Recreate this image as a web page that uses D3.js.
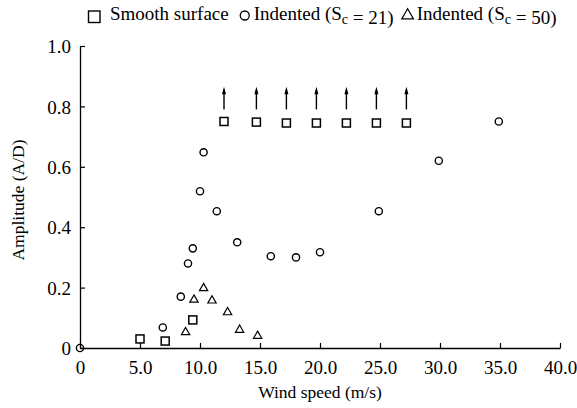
<!DOCTYPE html>
<html><head><meta charset="utf-8">
<script src="https://cdn.jsdelivr.net/npm/d3@7"></script>
<style>
html,body{margin:0;padding:0;background:#fff;}
</style></head>
<body>
<svg id="c" width="577" height="408"></svg>
<script>
// Data (wind speed m/s, amplitude A/D)
const smoothX = [5.0, 7.1, 9.4, 12.0, 14.7, 17.2, 19.7, 22.2, 24.7, 27.2];
const smoothY = [0.03, 0.023, 0.093, 0.75, 0.748, 0.745, 0.745, 0.745, 0.745, 0.745];
const sc21X = [0.0, 6.9, 8.4, 9.0, 9.4, 10.0, 10.3, 11.4, 13.1, 15.9, 18.0, 20.0, 24.9, 29.9, 34.9];
const sc21Y = [0.0, 0.068, 0.17, 0.28, 0.33, 0.519, 0.648, 0.453, 0.35, 0.304, 0.30, 0.317, 0.453, 0.62, 0.75];
const sc50X = [8.8, 9.5, 10.3, 11.0, 12.3, 13.3, 14.8];
const sc50Y = [0.052, 0.16, 0.198, 0.157, 0.118, 0.06, 0.04];
const arrowX = [12.0, 14.7, 17.2, 19.7, 22.2, 24.7, 27.2];
const xTicks = [0, 5, 10, 15, 20, 25, 30, 35, 40];
const xTickLabels = ["0", "5.0", "10.0", "15.0", "20.0", "25.0", "30.0", "35.0", "40.0"];
const yTicks = [0, 0.2, 0.4, 0.6, 0.8, 1.0];
const yTickLabels = ["0", "0.2", "0.4", "0.6", "0.8", "1.0"];

const FONT = '"Liberation Serif", "Times New Roman", Times, serif';
const svg = d3.select("#c").attr("font-family", FONT);
const x = d3.scaleLinear().domain([0, 40]).range([80, 560]);
const y = d3.scaleLinear().domain([0, 1]).range([348, 46]);

// x axis (ticks pointing up)
const xa = svg.append("g").attr("transform", `translate(0,${y(0)})`)
  .call(d3.axisBottom(x).tickValues(xTicks).tickSizeInner(-5).tickSizeOuter(0)
    .tickFormat((d, i) => xTickLabels[i]));
xa.attr("font-family", FONT);
xa.select(".domain").attr("stroke", "#000").attr("stroke-width", 1.3);
xa.selectAll(".tick line").attr("stroke", "#000").attr("stroke-width", 1.2);
xa.selectAll(".tick text").attr("font-size", 19).attr("dy", 0).attr("y", 26)
  .attr("font-family", FONT);

// y axis (ticks pointing right)
const ya = svg.append("g").attr("transform", `translate(${x(0)},0)`)
  .call(d3.axisLeft(y).tickValues(yTicks).tickSizeInner(-5).tickSizeOuter(0)
    .tickFormat((d, i) => yTickLabels[i]));
ya.attr("font-family", FONT);
ya.select(".domain").attr("stroke", "#000").attr("stroke-width", 1.3);
ya.selectAll(".tick line").attr("stroke", "#000").attr("stroke-width", 1.2);
ya.selectAll(".tick text").attr("font-size", 19).attr("x", -9).attr("dy", "0.35em")
  .attr("font-family", FONT);

// axis titles
svg.append("text").attr("x", 320).attr("y", 398).attr("text-anchor", "middle")
  .attr("font-size", 17.5).attr("font-family", FONT).text("Wind speed (m/s)");
svg.append("text").attr("transform", "translate(24,200) rotate(-90)").attr("text-anchor", "middle")
  .attr("font-size", 17.5).attr("font-family", FONT).text("Amplitude (A/D)");

// markers
const sq = 8;
svg.append("g").selectAll("rect").data(smoothX.map((d, i) => [d, smoothY[i]])).join("rect")
  .attr("x", d => x(d[0]) - sq / 2).attr("y", d => y(d[1]) - sq / 2)
  .attr("width", sq).attr("height", sq)
  .attr("fill", "none").attr("stroke", "#000").attr("stroke-width", 1.5);

svg.append("g").selectAll("circle").data(sc21X.map((d, i) => [d, sc21Y[i]])).join("circle")
  .attr("cx", d => x(d[0])).attr("cy", d => y(d[1])).attr("r", 3.6)
  .attr("fill", "none").attr("stroke", "#000").attr("stroke-width", 1.4);

const tri = d3.symbol().type(d3.symbolTriangle).size(30);
svg.append("g").selectAll("path").data(sc50X.map((d, i) => [d, sc50Y[i]])).join("path")
  .attr("d", tri).attr("transform", d => `translate(${x(d[0])},${y(d[1])})`)
  .attr("fill", "none").attr("stroke", "#000").attr("stroke-width", 1.2);

// arrows
const ag = svg.append("g");
arrowX.forEach(v => {
  const cx = x(v);
  ag.append("line").attr("x1", cx).attr("x2", cx).attr("y1", y(0.79)).attr("y2", y(0.855))
    .attr("stroke", "#000").attr("stroke-width", 1.4);
  ag.append("path").attr("d", `M${cx},${y(0.865)} L${cx - 2},${y(0.84)} L${cx + 2},${y(0.84)} Z`)
    .attr("fill", "#000");
});

// legend
const lg = svg.append("g").attr("font-family", FONT);
const ly = 20;
let cur = 110;
function addText(parts) {
  const t = lg.append("text").attr("x", cur).attr("y", ly).attr("font-size", 19).attr("font-family", FONT);
  parts.forEach(p => {
    if (p.sub) {
      t.append("tspan").attr("font-size", 14).attr("dy", 4).text(p.t);
      t.append("tspan").attr("dy", -4).text("");
    } else t.append("tspan").text(p.t);
  });
  return t.node().getComputedTextLength();
}
lg.append("rect").attr("x", 88.5).attr("y", 11).attr("width", 11.5).attr("height", 11.5)
  .attr("fill", "none").attr("stroke", "#000").attr("stroke-width", 1.4);
let w = addText([{t: "Smooth surface"}]);
lg.append("circle").attr("cx", cur + w + 16).attr("cy", 15.5).attr("r", 4.5)
  .attr("fill", "none").attr("stroke", "#000").attr("stroke-width", 1.3);
cur = cur + w + 25;
w = addText([{t: "Indented (S"}, {t: "c", sub: true}, {t: " = 21)"}]);
lg.append("path").attr("d", d3.symbol().type(d3.symbolTriangle).size(60))
  .attr("transform", `translate(${cur + w + 14},15.5)`)
  .attr("fill", "none").attr("stroke", "#000").attr("stroke-width", 1.2);
cur = cur + w + 23;
addText([{t: "Indented (S"}, {t: "c", sub: true}, {t: " = 50)"}]);
</script>
</body></html>
